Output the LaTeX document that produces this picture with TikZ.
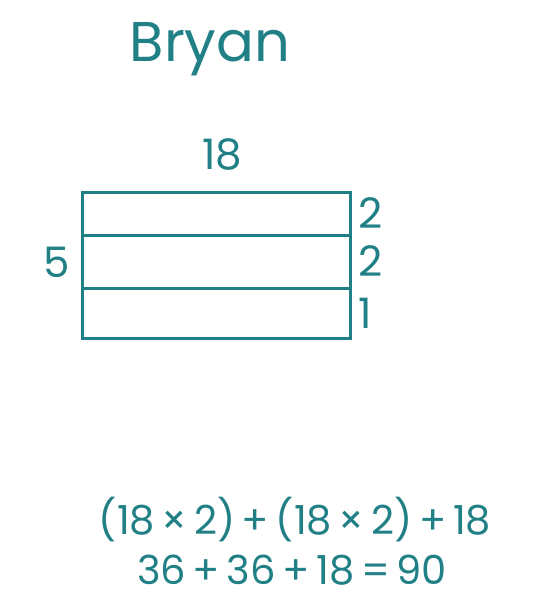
\documentclass[tikz,border=0pt]{standalone}
\usepackage{fontspec}
\setmainfont{Poppins}
\usetikzlibrary{positioning}
\definecolor{teal1}{RGB}{32,128,134}
\tikzset{
  strip/.style={draw=teal1,line width=3pt,minimum width=268pt,inner sep=0pt,outer sep=0pt},
  lbl/.style={text=teal1,font=\fontsize{42}{48}\selectfont,inner sep=0pt},
  eqn/.style={text=teal1,font=\fontsize{40}{46}\selectfont,inner sep=0pt}
}
\begin{document}
\begin{tikzpicture}[x=1pt,y=-1pt]
  \useasboundingbox (0,0) rectangle (545,602);
  % name on top
  \node[lbl,font=\fontsize{56}{62}\selectfont] (name) at (210,49) {Bryan};

  % the three strips of the rectangle
  \node[strip,minimum height=43pt] (s1) at (216,213.5) {};
  \node[strip,minimum height=53pt,below=0pt of s1] (s2) {};
  \node[strip,minimum height=50pt,below=0pt of s2] (s3) {};

  % side lengths
  \node[lbl] (top) at (222,155) {18};
  \node[lbl] (left) at (57,262) {5};
  \node[lbl,right=8pt of s1] (r1) {2};
  \node[lbl,right=8pt of s2] (r2) {2};
  \node[lbl,right=8pt of s3] (r3) {1};

  % sums
  \node[eqn] (eq1) at (295,520) {(18\,×\,2)\,+\,(18\,×\,2)\,+\,18};
  \node[eqn] (eq2) at (292,570) {36\,+\,36\,+\,18\,=\,90};
\end{tikzpicture}
\end{document}
